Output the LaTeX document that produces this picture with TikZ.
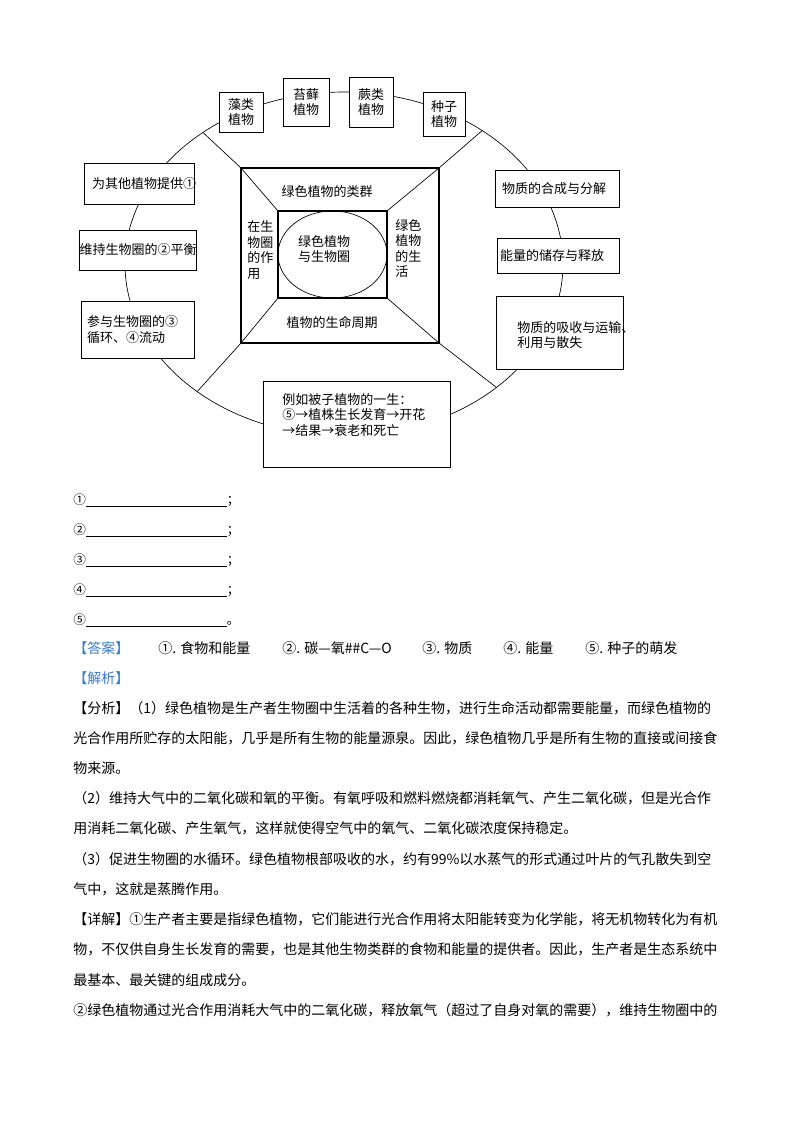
\documentclass[tikz,border=0pt]{standalone}
\usepackage{fontspec}
\setmainfont{Noto Sans CJK SC}
\usepackage{xcolor}
\usetikzlibrary{shapes.geometric, positioning}
\definecolor{tagblue}{RGB}{58,125,200}
\tikzset{>=latex}
\newcommand{\upx}{0.75pt}

\begin{document}
\begin{tikzpicture}[x=0.75pt, y=-0.75pt,
  kbox/.style={draw, fill=white, line width=0.7pt, inner sep=0pt, outer sep=0pt, align=center,
    font=\fontsize{9.75}{11.6}\selectfont},
  sz/.style 2 args={minimum width=#1*\upx, minimum height=#2*\upx},
  lbl/.style={inner sep=0pt, align=left, font=\fontsize{9.75}{11.6}\selectfont},
  txt/.style={anchor=west, inner sep=0pt, font=\fontsize{10.5}{13}\selectfont},
  tag/.style={txt, text=tagblue}]
\useasboundingbox[fill=white] (0,0) rectangle (800,1132);

% ring and the two squares
\node[ellipse, draw, line width=0.5pt, inner sep=0pt, outer sep=0pt, sz={438}{344}] (ring) at (344,264) {};
\node[draw, line width=0.8pt, inner sep=0pt, outer sep=0pt, sz={198}{175}] (outer) at (340,255.5) {};
\node[draw, line width=0.9pt, inner sep=0pt, outer sep=0pt, sz={109}{87}] (inner) at (332.5,254.5) {};
\node[ellipse, draw, line width=0.5pt, inner sep=0pt, outer sep=0pt, sz={109}{87}] (hub) at (332.5,254.5) {};
\path[draw, line width=0.5pt]
  (ring.137) -- (outer.north west) -- (inner.north west)
  (ring.44)  -- (outer.north east) -- (inner.north east)
  (ring.221) -- (outer.south west) -- (inner.south west)
  (ring.321) -- (outer.south east) -- (inner.south east);

\node[lbl] (kinds) at (327,192) {绿色植物的类群};
\node[lbl] (period) at (332,323) {植物的生命周期};
\node[lbl, anchor=west] (roles) at (247,250) {在生\\物圈\\的作\\用};
\node[lbl, anchor=west] (living) at (395,248.5) {绿色\\植物\\的生\\活};
\node[lbl, align=center] (hubtext) at (324,249) {绿色植物\\与生物圈};

% groups on top
\node[kbox, sz={44}{40}] (algae) at (241,112) {藻类\\植物};
\node[kbox, sz={46}{48}] (moss) at (306,102) {苔藓\\植物};
\node[kbox, sz={44}{50}] (fern) at (371,102) {蕨类\\植物};
\node[kbox, sz={42}{44}] (seed) at (444,114) {种子\\植物};

% left side
\node[kbox, sz={110}{41}, align=left, text width=70.5pt] (food) at (139,183.5) {为其他植物提供①};
\node[kbox, sz={114}{40}] (balance) at (138,250) {维持生物圈的②平衡};
\node[kbox, sz={113}{57}, align=left, text width=75.75pt] (loop) at (137.5,329.5) {参与生物圈的③\\循环、④流动};

% right side
\node[kbox, sz={124}{37}, align=left, text width=82.5pt] (synth) at (557,188.5) {物质的合成与分解};
\node[kbox, sz={122}{35}, align=left, text width=87pt] (energy) at (558,255.5) {能量的储存与释放};
\node[kbox, sz={127}{73}] (absorb) at (559.5,332.5) {};
\node[lbl, anchor=west] (absorbtext) at (517,335) {物质的吸收与运输、\\利用与散失};

% bottom
\node[kbox, sz={187}{86}] (life) at (356.5,424) {};
\node[lbl, anchor=west] (lifetext) at (282,415) {例如被子植物的一生：\\⑤→植株生长发育→开花\\→结果→衰老和死亡};

% blanks
\foreach \d/\p [count=\i] in {①/；,②/；,③/；,④/；,⑤/。}
  \node[txt, font=\fontsize{9.5}{12}\selectfont] (blank\i) at (73,{500+30*(\i-1)}) {\d\underline{\makebox[105.75pt]{}}\p};

% answer
\node[tag] (ans) at (73,648) {【答案】};
\node[txt] (a1) at (158,648) {①. 食物和能量};
\node[txt] (a2) at (282,648) {②. 碳—氧\#\#C—O};
\node[txt] (a3) at (422,648) {③. 物质};
\node[txt] (a4) at (503,648) {④. 能量};
\node[txt] (a5) at (585,648) {⑤. 种子的萌发};
\node[tag] (expl) at (73,678) {【解析】};

% analysis text
\foreach \t [count=\i] in {
  {【分析】（1）绿色植物是生产者生物圈中生活着的各种生物，进行生命活动都需要能量，而绿色植物的},
  {光合作用所贮存的太阳能，几乎是所有生物的能量源泉。因此，绿色植物几乎是所有生物的直接或间接食},
  {物来源。},
  {（2）维持大气中的二氧化碳和氧的平衡。有氧呼吸和燃料燃烧都消耗氧气、产生二氧化碳，但是光合作},
  {用消耗二氧化碳、产生氧气，这样就使得空气中的氧气、二氧化碳浓度保持稳定。},
  {（3）促进生物圈的水循环。绿色植物根部吸收的水，约有99\%以水蒸气的形式通过叶片的气孔散失到空},
  {气中，这就是蒸腾作用。},
  {【详解】①生产者主要是指绿色植物，它们能进行光合作用将太阳能转变为化学能，将无机物转化为有机},
  {物，不仅供自身生长发育的需要，也是其他生物类群的食物和能量的提供者。因此，生产者是生态系统中},
  {最基本、最关键的组成成分。},
  {②绿色植物通过光合作用消耗大气中的二氧化碳，释放氧气（超过了自身对氧的需要），维持生物圈中的}}
  \node[txt] (line\i) at (73,{708+30.2*(\i-1)}) {\t};
\end{tikzpicture}
\end{document}
